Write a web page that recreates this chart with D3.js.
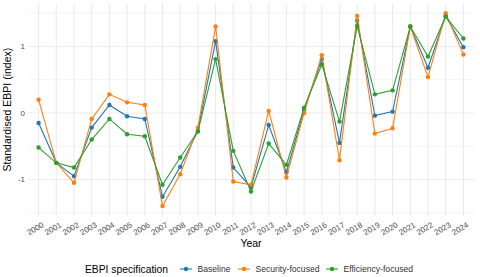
<!DOCTYPE html>
<html>
<head>
<meta charset="utf-8">
<script src="https://cdn.jsdelivr.net/npm/d3@7"></script>
<style>
  body { margin: 0; background: #fff; }
  svg { font-family: "Liberation Sans", Arial, sans-serif; }
</style>
</head>
<body>
<svg id="chart" width="480" height="277"></svg>
<script>
var years = ["2000","2001","2002","2003","2004","2005","2006","2007","2008","2009","2010","2011","2012",
             "2013","2014","2015","2016","2017","2018","2019","2020","2021","2022","2023","2024"];

var baseline = [-0.15,-0.75,-0.95,-0.22,0.12,-0.05,-0.09,-1.26,-0.81,-0.27,1.08,-0.82,-1.12,
                -0.18,-0.89,0.05,0.81,-0.45,1.39,-0.04,0.02,1.30,0.68,1.46,0.99];
var security = [0.20,-0.75,-1.05,-0.09,0.28,0.16,0.12,-1.40,-0.92,-0.22,1.30,-1.03,-1.08,
                0.03,-0.97,0.00,0.87,-0.71,1.46,-0.31,-0.23,1.30,0.54,1.50,0.88];
var efficiency = [-0.52,-0.75,-0.82,-0.40,-0.09,-0.32,-0.35,-1.08,-0.67,-0.28,0.81,-0.57,-1.18,
                  -0.46,-0.78,0.08,0.73,-0.13,1.31,0.28,0.34,1.30,0.85,1.45,1.12];

var seriesNames = ["Baseline","Security-focused","Efficiency-focused"];
var seriesColors = ["#1f77b4","#ff7f0e","#2ca02c"];
var yTicks = [-1, 0, 1];

var series = [
  {name: seriesNames[0], color: seriesColors[0], values: baseline},
  {name: seriesNames[1], color: seriesColors[1], values: security},
  {name: seriesNames[2], color: seriesColors[2], values: efficiency}
];

var svg = d3.select("#chart");
var panel = {left: 28, right: 474, top: 3.6, bottom: 215.7};

// discrete x, ggplot style expand of 0.6 units each side
var x = d3.scalePoint()
          .domain(years)
          .range([panel.left + 10.6, panel.right - 10.6]);

var y = d3.scaleLinear()
          .domain([-1.545, 1.645])
          .range([panel.bottom, panel.top]);

// grid
var grid = svg.append("g");
var minor = [-1.5, -0.5, 0.5, 1.5];
grid.selectAll(".minor").data(minor).join("line")
    .attr("x1", panel.left).attr("x2", panel.right)
    .attr("y1", function(d){ return y(d) }).attr("y2", function(d){ return y(d) })
    .attr("stroke", "#ebebeb").attr("stroke-width", 0.6);
grid.selectAll(".majy").data(yTicks).join("line")
    .attr("x1", panel.left).attr("x2", panel.right)
    .attr("y1", function(d){ return y(d) }).attr("y2", function(d){ return y(d) })
    .attr("stroke", "#ebebeb").attr("stroke-width", 1.1);
grid.selectAll(".majx").data(years).join("line")
    .attr("x1", function(d){ return x(d) }).attr("x2", function(d){ return x(d) })
    .attr("y1", panel.top).attr("y2", panel.bottom)
    .attr("stroke", "#ebebeb").attr("stroke-width", 1.1);

// y tick labels
svg.append("g").selectAll("text").data(yTicks).join("text")
    .attr("x", panel.left - 3)
    .attr("y", function(d){ return y(d) })
    .attr("dy", "0.35em")
    .attr("text-anchor", "end")
    .attr("fill", "#4d4d4d")
    .style("font-size", "8px")
    .text(function(d){ return d });

// x tick labels, rotated
svg.append("g").selectAll("text").data(years).join("text")
    .attr("transform", function(d){ return "translate(" + (x(d) + 3) + "," + (panel.bottom + 6) + ") rotate(-30)" })
    .attr("text-anchor", "end")
    .attr("dy", "0.7em")
    .attr("fill", "#4d4d4d")
    .style("font-size", "8px")
    .text(function(d){ return d });

// lines and points
var line = d3.line()
             .x(function(d, i){ return x(years[i]) })
             .y(function(d){ return y(d) });

var g = svg.append("g");
series.forEach(function(s){
  g.append("path")
   .datum(s.values)
   .attr("d", line)
   .attr("fill", "none")
   .attr("stroke", s.color)
   .attr("stroke-width", 1.1);
  g.selectAll(null).data(s.values).join("circle")
   .attr("cx", function(d, i){ return x(years[i]) })
   .attr("cy", function(d){ return y(d) })
   .attr("r", 2.2)
   .attr("fill", s.color);
});

// axis titles
svg.append("text")
   .attr("x", (panel.left + panel.right) / 2)
   .attr("y", 247)
   .attr("text-anchor", "middle")
   .style("font-size", "10.5px")
   .text("Year");

svg.append("text")
   .attr("transform", "translate(11," + ((panel.top + panel.bottom) / 2) + ") rotate(-90)")
   .attr("text-anchor", "middle")
   .style("font-size", "10.5px")
   .text("Standardised EBPI (index)");

// legend
var legend = svg.append("g").attr("transform", "translate(0,269)");
legend.append("text")
      .attr("x", 85).attr("dy", "0.35em")
      .style("font-size", "10.3px")
      .text("EBPI specification");
var keyX = [186, 244, 332];
series.forEach(function(s, i){
  var k = legend.append("g").attr("transform", "translate(" + keyX[i] + ",0)");
  k.append("line").attr("x1", -6).attr("x2", 6).attr("stroke", s.color).attr("stroke-width", 1.1);
  k.append("circle").attr("r", 2.2).attr("fill", s.color);
  k.append("text").attr("x", 11.5).attr("dy", "0.35em")
   .attr("fill", "#333")
   .style("font-size", "8.6px")
   .text(s.name);
});
</script>
</body>
</html>
